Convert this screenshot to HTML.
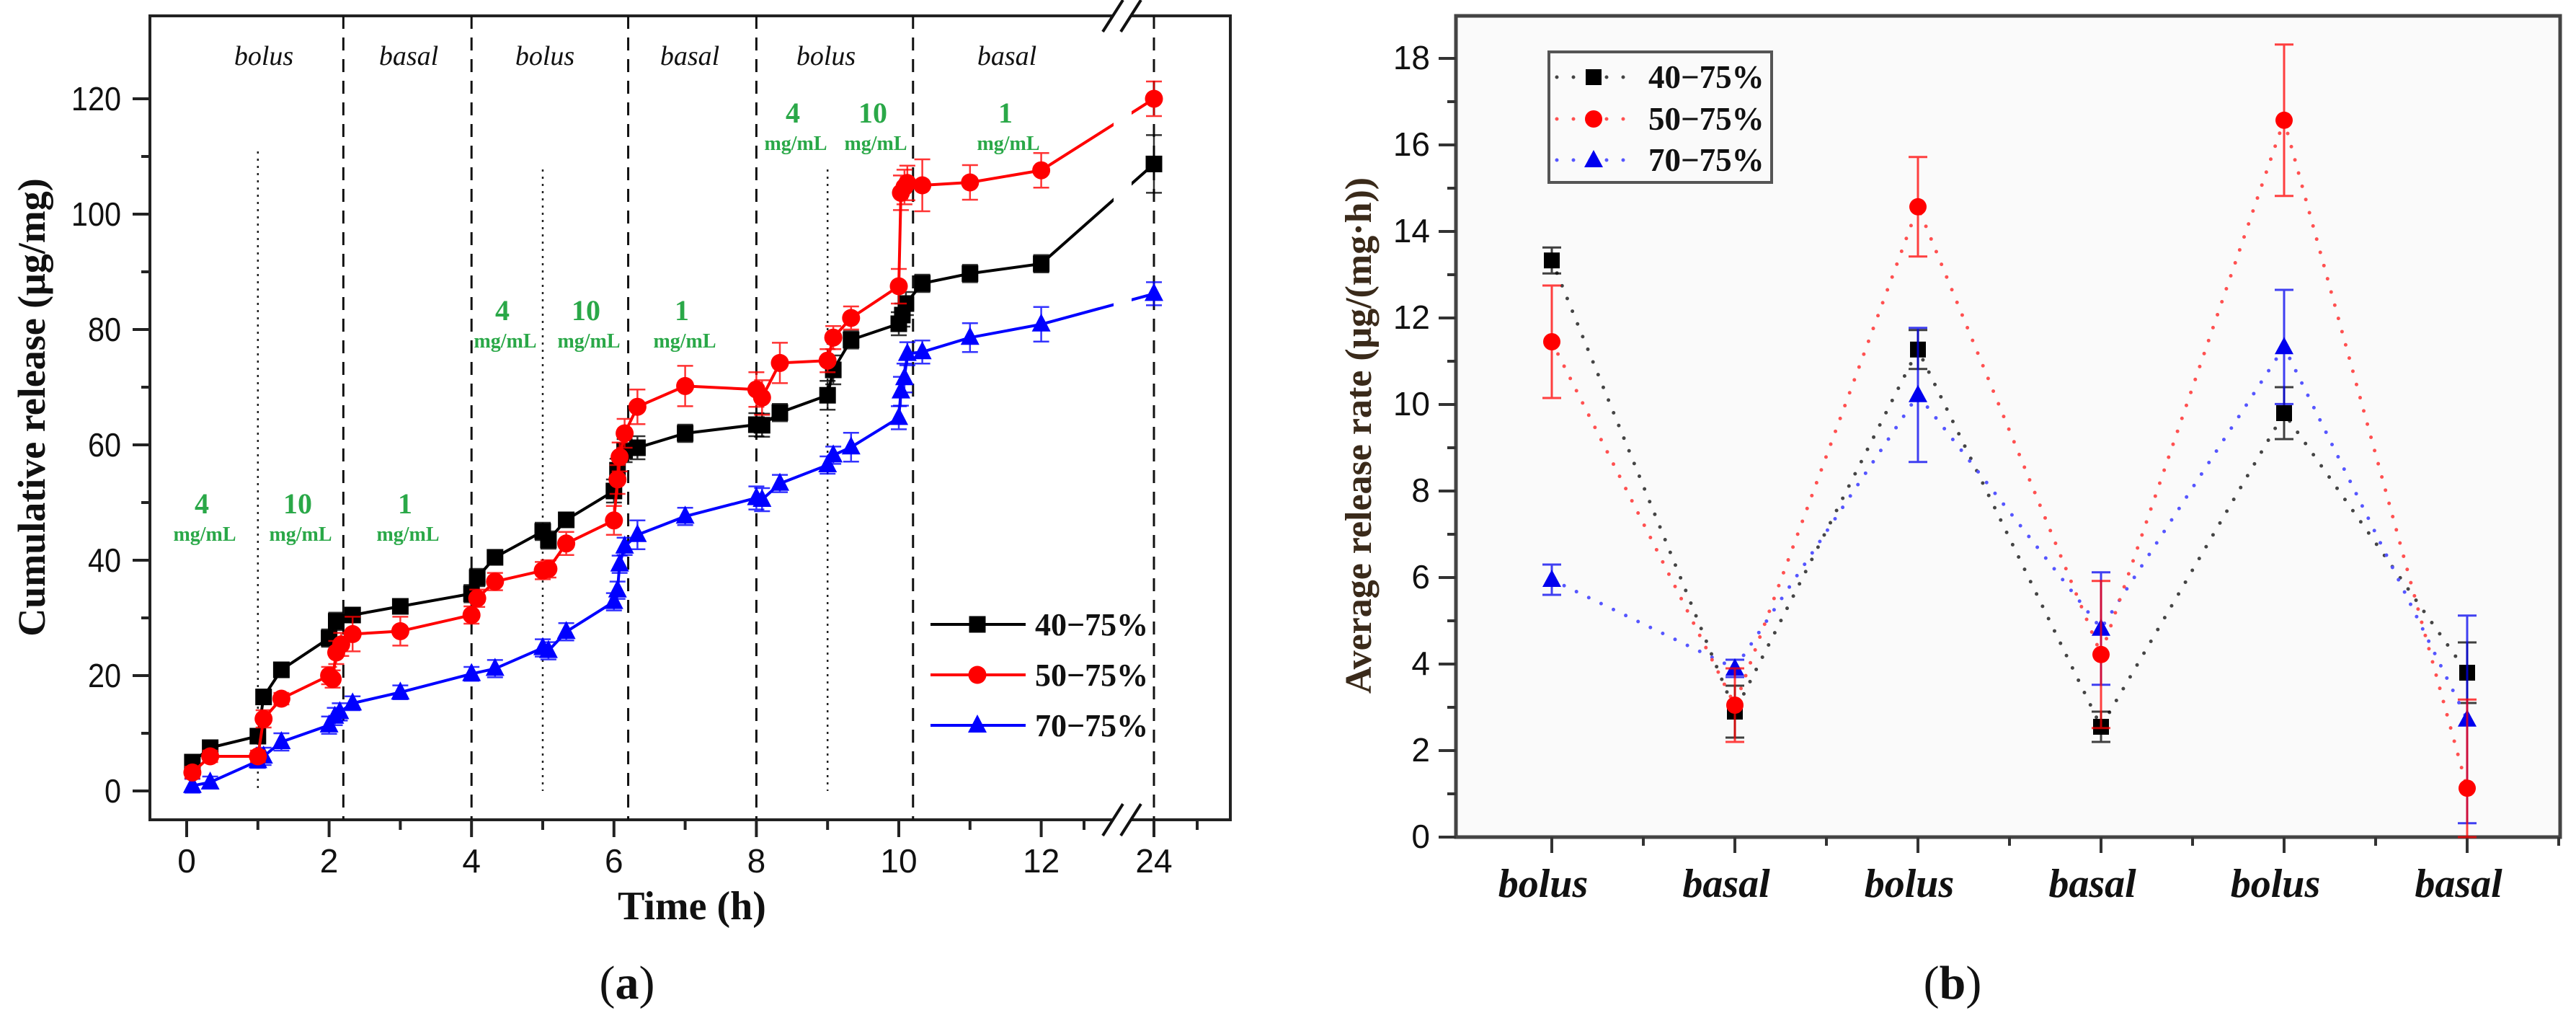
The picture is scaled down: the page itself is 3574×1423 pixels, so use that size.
<!DOCTYPE html>
<html><head><meta charset="utf-8"><style>
html,body{margin:0;padding:0;background:#fff}
svg{display:block}
.tk{font-family:"Liberation Sans",sans-serif;font-size:46px;fill:#111}
.ser{font-family:"Liberation Serif",serif}
.grn{font-family:"Liberation Serif",serif;font-weight:bold;fill:#2aa848;text-anchor:middle}
</style></head><body>
<svg id="fig" xmlns="http://www.w3.org/2000/svg" width="3574" height="1423" viewBox="0 0 3574 1423">
<g id="pa"></g>
<g id="pb"></g>
</svg>
<script>
// ---------- Panel (a) data ----------
const aTimes40 = [0.08,0.33,1.0,1.08,1.33,2.0,2.1,2.33,3.0,4.0,4.08,4.33,5.0,5.08,5.33,6.0,6.05,6.15,6.33,7.0,8.0,8.08,8.33,9.0,9.08,9.33,10.0,10.05,10.1,10.33,11.0,12.0,24];
const aVals40 = [5,7.5,9.5,16.3,21,26.5,29.4,30.5,32,34.2,37,40.5,45,43.5,47,52,55.6,59,59.5,62,63.5,63.4,65.6,68.6,73,78.2,81,82.5,84.5,88,89.7,91.4,108.7];
const aErr40 = [1,1,1.2,1.2,1.2,1.5,1.5,1.2,1.2,1.5,1.5,1.2,1.5,1.5,1.2,2,2,2,2,1.5,2,2,1.5,2.5,2.5,1.5,2,2,2,1.5,1.5,1.5,5];
const aTimes50 = [0.08,0.33,1.0,1.08,1.33,2.0,2.05,2.1,2.17,2.33,3.0,4.0,4.08,4.33,5.0,5.08,5.33,6.0,6.05,6.08,6.15,6.33,7.0,8.0,8.08,8.33,9.0,9.08,9.33,10.0,10.03,10.08,10.12,10.33,11.0,12.0,24];
const aVals50 = [3.2,6,6,12.5,16,20,19.4,24,25.4,27.2,27.7,30.5,33.4,36.3,38.2,38.5,42.9,46.9,54,57.9,62,66.6,70.2,69.6,68.2,74.2,74.6,78.6,82,87.5,103.7,104.7,105.4,105,105.5,107.6,120];
const aErr50 = [1,1,1,1.5,1,1.5,1.5,2,2,3,2.5,1.5,1.5,1.5,1.5,1.5,2,2.5,2.5,2.5,2.5,3,3.5,3,3,3.5,2,2,2,3,3,3,3,4.5,3,3,3];
const aTimes70 = [0.08,0.33,1.0,1.08,1.33,2.0,2.08,2.15,2.33,3.0,4.0,4.33,5.0,5.08,5.33,6.0,6.05,6.08,6.15,6.33,7.0,8.0,8.08,8.33,9.0,9.08,9.33,10.0,10.03,10.08,10.12,10.33,11.0,12.0,24];
const aVals70 = [0.9,1.5,5.2,6,8.5,11.4,12.9,13.7,15.2,17.1,20.3,21.2,24.8,24.3,27.6,32.8,34.8,39.3,42.4,44.4,47.6,50.8,50.5,53.3,56.5,58.2,59.6,64.7,69.3,71.6,75.8,76.1,78.6,80.9,86.2];
const aErr70 = [1.2,1,1.2,1.5,1.5,1.5,1.5,1.5,1.2,1.2,1.2,1.5,1.5,1.5,1.5,1.5,1.5,1.5,1.5,2.5,1.5,2,2,1.5,1.5,1.5,2.5,2,2.5,2.5,2,2,2.5,3,2];
const aYTicks = [0,20,40,60,80,100,120];
const aXTicks = [0,2,4,6,8,10,12,24];
const aPhases = ["bolus","basal","bolus","basal","bolus","basal"];
const aPhaseCenters = [1.08,2.34,3.81,5.08,6.2,7.8];
// ---------- Panel (b) data ----------
const bCats = ["bolus","basal","bolus","basal","bolus","basal"];
const bVals40 = [13.33,2.9,11.27,2.55,9.8,3.8];
const bErr40 = [0.3,0.6,0.45,0.35,0.6,0.7];
const bVals50 = [11.45,3.05,14.57,4.22,16.57,1.13];
const bErr50 = [1.3,0.85,1.15,1.7,1.75,2.05];
const bVals70 = [5.95,3.9,10.22,4.82,11.33,2.72];
const bErr70 = [0.35,0.2,1.55,1.3,1.32,2.4];
const bYTicks = [0,2,4,6,8,10,12,14,16,18];

const NS="http://www.w3.org/2000/svg";
function mk(parent,tag,attrs,text){const e=document.createElementNS(NS,tag);for(const k in attrs)e.setAttribute(k,attrs[k]);if(text!==undefined)e.textContent=text;parent.appendChild(e);return e;}

// ===== Panel A =====
const pa=document.getElementById('pa');
const AL=208,AR=1707,AT=22,AB=1137;
function ax(h){return h>12?1601:259+h*98.8;}
function ay(v){return 1097-v*8;}

// frame
let e;
e=mk(pa,'rect',{x:AL,y:AT,width:AR-AL,height:AB-AT,fill:'#fff',stroke:'#222','stroke-width':4});


// vertical phase lines
[2.2,4,6.2,8,10.2,24].forEach(h=>{const l=mk(pa,'line',{x1:ax(h),x2:ax(h),y1:AT,y2:AB,stroke:'#111','stroke-width':3,'stroke-dasharray':'18 12'});

});
[[1,210],[5,235],[9,235]].forEach(p=>{const l=mk(pa,'line',{x1:ax(p[0]),x2:ax(p[0]),y1:p[1],y2:1097,stroke:'#222','stroke-width':2.5,'stroke-dasharray':'3 7'});

});
// phase labels
const aPhaseX=[366,567,756,957,1146,1397];
aPhases.forEach((t,i)=>{const tx=mk(pa,'text',{x:aPhaseX[i],y:90,'text-anchor':'middle','font-size':38,'font-style':'italic',class:'ser',fill:'#111'},t);

});
// green concentration labels
const conc=[[280,700,"4"],[413,700,"10"],[562,700,"1"],[697,432,"4"],[813,432,"10"],[946,432,"1"],[1100,158,"4"],[1211,158,"10"],[1395,158,"1"]];
conc.forEach(c=>{const t1=mk(pa,'text',{x:c[0],y:c[1]+12,'font-size':40,class:'grn'},c[2]);


const t2=mk(pa,'text',{x:c[0]+4,y:c[1]+50,'font-size':28,class:'grn'},'mg/mL');

});
// y ticks
aYTicks.forEach(v=>{const l=mk(pa,'line',{x1:184,x2:AL,y1:ay(v),y2:ay(v),stroke:'#222','stroke-width':4});


const t=mk(pa,'text',{x:168,y:ay(v)+16,'text-anchor':'end',class:'tk',transform:`translate(${168*0.1},0) scale(0.9,1)`},String(v));
t.setAttribute('x',168/0.9-168*0.1/0.9);


if(v<120){const m=mk(pa,'line',{x1:196,x2:AL,y1:ay(v+10),y2:ay(v+10),stroke:'#222','stroke-width':4});

}});
// x ticks
aXTicks.forEach(h=>{const l=mk(pa,'line',{x1:ax(h),x2:ax(h),y1:AB,y2:AB+24,stroke:'#222','stroke-width':4});


const t=mk(pa,'text',{x:ax(h),y:1210,'text-anchor':'middle',class:'tk'},String(h));

});
[1,3,5,7,9,11].forEach(h=>{const m=mk(pa,'line',{x1:ax(h),x2:ax(h),y1:AB,y2:AB+14,stroke:'#222','stroke-width':4});

});
[1504,1661].forEach(x=>{const m=mk(pa,'line',{x1:x,x2:x,y1:AB,y2:AB+14,stroke:'#222','stroke-width':4});

});

function series(par,times,vals,errs,color,marker,name,xf,yf){
  const g=mk(par,'g',{});
  
  
  const pts=times.map((t,i)=>xf(t)+','+yf(vals[i])).join(' ');
  const pl=mk(g,'polyline',{points:pts,fill:'none',stroke:color,'stroke-width':4});
  
  
  times.forEach((t,i)=>{
    const x=xf(t),y=yf(vals[i]),ey=errs[i]*8;
    const eb=mk(g,'path',{d:`M${x},${y-ey}V${y+ey}M${x-11},${y-ey}h22M${x-11},${y+ey}h22`,stroke:color,'stroke-width':2.5,fill:'none',opacity:0.8});
    
    
    let m;
    if(marker==='s')m=mk(g,'rect',{x:x-11.5,y:y-11.5,width:23,height:23,fill:color});
    else if(marker==='c')m=mk(g,'circle',{cx:x,cy:y,r:12.5,fill:color});
    else m=mk(g,'path',{d:`M${x},${y-15}L${x+13},${y+10}L${x-13},${y+10}Z`,fill:color});
    
    
  });
}
series(pa,aTimes70,aVals70,aErr70,'#0000ff','t','series-70-75',ax,ay);
series(pa,aTimes40,aVals40,aErr40,'#000000','s','series-40-75',ax,ay);
series(pa,aTimes50,aVals50,aErr50,'#ff0000','c','series-50-75',ax,ay);
// axis break
e=mk(pa,'path',{d:'M1545,0L1570,0L1570,1423L1545,1423Z',fill:'#fff'});


e=mk(pa,'path',{d:`M1530,44L1558,0M1555,44L1583,0M1530,1159L1558,1115M1555,1159L1583,1115`,stroke:'#111','stroke-width':4});


// legend
[['#000','s','40−75%',866],['#ff0000','c','50−75%',936],['#0000ff','t','70−75%',1006]].forEach(r=>{
  const g=mk(pa,'g',{});
  
  
  mk(g,'line',{x1:1291,x2:1423,y1:r[3],y2:r[3],stroke:r[0],'stroke-width':4});
  const x=1356,y=r[3];
  if(r[1]==='s')mk(g,'rect',{x:x-11.5,y:y-11.5,width:23,height:23,fill:r[0]});
  else if(r[1]==='c')mk(g,'circle',{cx:x,cy:y,r:12.5,fill:r[0]});
  else mk(g,'path',{d:`M${x},${y-15}L${x+13},${y+10}L${x-13},${y+10}Z`,fill:r[0]});
  mk(g,'text',{x:1436,y:y+15,'font-size':44,'font-weight':'bold',class:'ser',fill:'#111'},r[2]);
});
e=mk(pa,'text',{x:62,y:565,'text-anchor':'middle','font-size':54,'font-weight':'bold',class:'ser',fill:'#111',transform:'rotate(-90 62 565)'},'Cumulative release (μg/mg)');


e=mk(pa,'text',{x:960,y:1275,'text-anchor':'middle','font-size':56,'font-weight':'bold',class:'ser',fill:'#111'},'Time (h)');


e=mk(pa,'text',{x:870,y:1385,'text-anchor':'middle','font-size':66,class:'ser',fill:'#111'});
e.innerHTML='(<tspan font-weight="bold">a</tspan>)';



// ===== Panel B =====
const pb=document.getElementById('pb');
const BL=2020,BR=3552,BT=22,BB=1161;
function bx(i){return 2153+i*254;}
function by(v){return 1161-v*60;}
e=mk(pb,'rect',{x:BL,y:BT,width:BR-BL,height:BB-BT,fill:'#fafafa',stroke:'#444','stroke-width':5});


bYTicks.forEach(v=>{const l=mk(pb,'line',{x1:1996,x2:BL,y1:by(v),y2:by(v),stroke:'#333','stroke-width':4});


const t=mk(pb,'text',{x:1984,y:by(v)+15,'text-anchor':'end',class:'tk','font-size':44,fill:'#333'},String(v));


if(v<18){const m=mk(pb,'line',{x1:2008,x2:BL,y1:by(v+1),y2:by(v+1),stroke:'#333','stroke-width':4});

}});
bCats.forEach((c,i)=>{const l=mk(pb,'line',{x1:bx(i),x2:bx(i),y1:BB,y2:BB+22,stroke:'#333','stroke-width':4});


const m=mk(pb,'line',{x1:bx(i)+127,x2:bx(i)+127,y1:BB,y2:BB+12,stroke:'#333','stroke-width':4});


const t=mk(pb,'text',{x:bx(i)-12,y:1244,'text-anchor':'middle','font-size':56,'font-weight':'bold','font-style':'italic',class:'ser',fill:'#111'},c);

});
function bseries(vals,errs,color,lc,marker,name){
  const g=mk(pb,'g',{});
  
  
  const pl=mk(g,'polyline',{points:vals.map((v,i)=>bx(i)+','+by(v)).join(' '),fill:'none',stroke:lc,'stroke-width':5,'stroke-linecap':'round','stroke-dasharray':'0 19'});
  
  
  vals.forEach((v,i)=>{
    const x=bx(i),y=by(v),ey=errs[i]*60;
    const eb=mk(g,'path',{d:`M${x},${y-ey}V${Math.min(y+ey,BB)}M${x-13},${y-ey}h26M${x-13},${Math.min(y+ey,BB)}h26`,stroke:color,'stroke-width':3,fill:'none',opacity:0.75});
    
    
    let m;
    if(marker==='s')m=mk(g,'rect',{x:x-11,y:y-11,width:22,height:22,fill:color});
    else if(marker==='c')m=mk(g,'circle',{cx:x,cy:y,r:12,fill:color});
    else m=mk(g,'path',{d:`M${x},${y-14}L${x+13},${y+10}L${x-13},${y+10}Z`,fill:color});
    
    
  });
}
bseries(bVals40,bErr40,'#000','#444','s','series-40-75-rate');
bseries(bVals70,bErr70,'#0000ee','#5555ff','t','series-70-75-rate');
bseries(bVals50,bErr50,'#ff0000','#ff5050','c','series-50-75-rate');
e=mk(pb,'rect',{x:2149,y:72,width:309,height:181,fill:'#fafafa',stroke:'#555','stroke-width':4});


[['#000','#444','s','40−75%',107],['#ff0000','#ff5050','c','50−75%',165],['#0000ee','#5555ff','t','70−75%',222]].forEach(r=>{
  const g=mk(pb,'g',{});
  
  
  const y=r[4],x=2211;
  mk(g,'line',{x1:2160,x2:2255,y1:y,y2:y,stroke:r[1],'stroke-width':5,'stroke-linecap':'round','stroke-dasharray':'0 23'});
  if(r[2]==='s')mk(g,'rect',{x:x-11,y:y-11,width:22,height:22,fill:r[0]});
  else if(r[2]==='c')mk(g,'circle',{cx:x,cy:y,r:12,fill:r[0]});
  else mk(g,'path',{d:`M${x},${y-14}L${x+13},${y+10}L${x-13},${y+10}Z`,fill:r[0]});
  mk(g,'text',{x:2287,y:y+15,'font-size':45,'font-weight':'bold',class:'ser',fill:'#111'},r[3]);
});
e=mk(pb,'text',{x:1902,y:604,'text-anchor':'middle','font-size':52,'font-weight':'bold',class:'ser',fill:'#3a2a1a',transform:'rotate(-90 1902 604)'},'Average release rate (μg/(mg·h))');


e=mk(pb,'text',{x:2709,y:1385,'text-anchor':'middle','font-size':66,class:'ser',fill:'#111'});
e.innerHTML='(<tspan font-weight="bold">b</tspan>)';


</script>
</body></html>
